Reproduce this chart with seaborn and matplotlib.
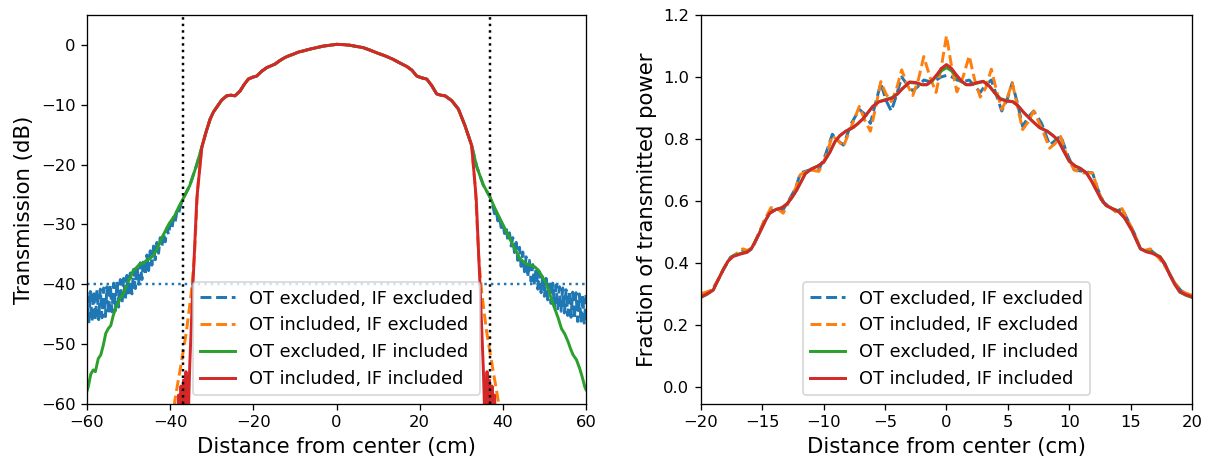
import matplotlib
matplotlib.use("Agg")
import matplotlib.pyplot as plt
import seaborn as sns

labels = ["OT excluded, IF excluded", "OT included, IF excluded",
          "OT excluded, IF included", "OT included, IF included"]
colors = ["tab:blue", "tab:orange", "tab:green", "tab:red"]
styles = ["--", "--", "-", "-"]

# ---- left panel: transmission in dB ----
lobe_x = [-32.4, -31.4, -30.4, -29.6, -28.8, -27.6, -26.4, -25.4, -24.4, -23.2,
          -22.2, -21.2, -20.2, -19.2, -18.0, -16.8, -15.8, -14.8, -13.6, -12.4,
          -11.4, -10.4, -9.2, -8.0, -6.4, -4.8, -3.2, -1.6, 0.0, 1.6, 3.2, 4.8,
          6.4, 8.0, 9.6, 11.6, 13.6, 15.2, 16.9, 18.1, 19.3, 20.5, 21.7, 22.9,
          24.1, 25.1, 26.1, 27.7, 29.3, 30.9, 32.5]
lobe_db = [-17.1, -14.6, -12.4, -11.2, -10.4, -9.2, -8.5, -8.4, -8.5, -7.7,
           -6.6, -5.7, -5.4, -5.2, -4.4, -3.8, -3.5, -3.2, -2.6, -2.1,
           -1.8, -1.55, -1.2, -1.0, -0.7, -0.45, -0.2, -0.05, 0.1, 0.05, -0.05, -0.25,
           -0.45, -0.85, -1.3, -1.8, -2.4, -3.0, -3.6, -4.2, -5.2, -5.5, -5.7, -6.8,
           -8.2, -8.4, -8.5, -9.3, -10.7, -13.5, -16.8]

red_left_x = [-38.3, -38.0, -37.7, -37.4, -37.1, -36.8, -36.5, -36.2, -35.9,
              -35.6, -35.3, -34.5, -33.6]
red_left_db = [-65, -58.5, -64, -57, -64, -56, -63, -54.6, -63,
               -61, -53.5, -39.6, -25.7]
red_right_x = [33.6, 34.5, 35.3, 35.6, 35.9, 36.2, 36.5, 36.8, 37.1, 37.4,
               37.7, 38.0, 38.3]
red_right_db = [-25.7, -40.0, -54.0, -61, -63, -54.6, -63, -56, -64, -57,
                -64, -58.5, -65]

orange_left_x = [-39.5, -38.9, -38.3, -37.7, -36.9, -36.1, -35.5, -34.9, -34.2, -33.4]
orange_left_db = [-63, -59.5, -57.0, -54.6, -51.3, -47.9, -44.6, -41.2, -35.5, -24.0]
orange_right_x = [33.4, 34.2, 34.9, 35.5, 36.1, 36.9, 37.7, 38.3, 38.9, 39.5]
orange_right_db = [-24.0, -35.5, -41.2, -44.6, -47.9, -51.3, -54.6, -57.0, -59.5, -63]

green_left_x = [-60.0, -59.7, -59.1, -58.5, -58.0, -57.3, -56.7, -56.1, -55.5,
                -54.9, -54.3, -53.7, -53.1, -52.1, -51.3, -50.5, -49.7, -48.9,
                -48.1, -47.3, -46.5, -45.7, -44.9, -44.1, -43.3, -42.5, -41.7,
                -40.3, -38.9, -37.9, -36.9, -35.3, -33.7]
green_left_db = [-57.8, -57.1, -55.0, -54.3, -54.6, -52.4, -51.8, -50.2, -48.2,
                 -47.4, -46.9, -45.2, -44.0, -42.4, -41.6, -40.2, -39.0, -37.7,
                 -37.2, -36.6, -36.5, -36.0, -35.7, -35.2, -34.3, -33.0, -31.8,
                 -29.9, -28.5, -27.0, -25.7, -23.5, -20.2]
green_right_x = [33.7, 35.3, 36.9, 38.1, 39.3, 40.5, 41.7, 42.9, 44.1, 44.9,
                 45.7, 46.7, 47.7, 48.5, 49.3, 50.1, 50.9, 51.7, 52.5, 53.3,
                 54.1, 54.9, 55.7, 56.3, 56.9, 57.7, 58.5, 59.1, 59.7, 60.0]
green_right_db = [-20.3, -23.4, -25.4, -27.3, -29.0, -30.7, -32.4, -34.1, -35.7, -36.2,
                  -36.6, -36.8, -37.1, -37.6, -38.5, -39.5, -40.7, -42.5, -44.1, -45.6,
                  -47.4, -48.3, -49.6, -50.8, -51.8, -52.6, -54.1, -55.5, -57.1, -57.6]

blue_left_x = [-60.0, -59.6, -59.2, -58.8, -58.4, -58.0, -57.6, -57.2, -56.8, -56.4,
               -56.0, -55.6, -55.2, -54.8, -54.4, -54.0, -53.6, -53.2, -52.8, -52.4,
               -52.0, -51.6, -51.2, -50.8, -50.4, -50.0, -49.6, -49.2, -48.8, -48.4,
               -48.0, -47.6, -47.2, -46.8, -46.4, -46.0, -45.6, -45.2, -44.8, -44.4,
               -44.0, -43.6, -43.2, -42.8, -42.4, -42.0, -41.6, -41.2, -40.8, -40.4,
               -40.0, -39.6, -39.2, -38.8, -38.4, -38.0, -37.6, -36.9, -35.3, -33.7]
blue_left_db = [-41.3, -46.5, -41.2, -46.2, -41.1, -46.0, -40.9, -45.9, -40.8, -45.6,
                -40.6, -45.4, -40.4, -45.0, -40.1, -44.6, -39.8, -44.4, -39.5, -43.8,
                -39.2, -43.2, -39.0, -42.6, -38.5, -42.0, -38.1, -41.6, -37.5, -40.7,
                -37.0, -40.0, -36.4, -39.2, -35.8, -38.5, -35.1, -37.7, -34.4, -36.8,
                -33.6, -35.9, -33.0, -34.8, -32.2, -33.8, -31.4, -32.9, -30.6, -31.7,
                -29.8, -30.8, -28.8, -29.6, -27.8, -28.3, -27.0, -25.7, -23.5, -20.2]
blue_right_x = [33.7, 35.3, 36.9, 37.6, 38.0, 38.4, 38.8, 39.2, 39.6, 40.0, 40.4,
                40.8, 41.2, 41.6, 42.0, 42.4, 42.8, 43.2, 43.6, 44.0, 44.4,
                44.8, 45.2, 45.6, 46.0, 46.4, 46.8, 47.2, 47.6, 48.0, 48.4,
                48.8, 49.2, 49.6, 50.0, 50.4, 50.8, 51.2, 51.6, 52.0, 52.4,
                52.8, 53.2, 53.6, 54.0, 54.4, 54.8, 55.2, 55.6, 56.0, 56.4,
                56.8, 57.2, 57.6, 58.0, 58.4, 58.8, 59.2, 59.6, 60.0]
blue_right_db = [-20.3, -23.4, -25.4, -26.9, -28.2, -27.7, -29.4, -28.7, -30.5, -29.6, -31.5,
                 -30.5, -32.6, -31.4, -33.6, -32.2, -34.7, -33.0, -36.0, -33.8, -37.0,
                 -34.6, -37.9, -35.4, -38.8, -36.0, -39.5, -36.7, -40.1, -37.3, -40.8,
                 -37.9, -41.4, -38.5, -42.0, -39.0, -42.6, -39.4, -43.2, -39.8, -43.7,
                 -40.1, -44.1, -40.4, -44.5, -40.6, -44.8, -40.9, -45.2, -41.1, -45.5,
                 -41.3, -45.8, -41.4, -46.2, -41.6, -46.4, -41.7, -46.7, -41.8]

threshold_db = -40
edge_cm = [-37, 37]

# ---- right panel: fraction of transmitted power ----
rp_x = [-20.0, -19.5, -19.0, -18.6, -18.2, -17.8, -17.4, -16.8, -16.3, -15.9,
        -15.5, -15.1, -14.7, -14.4, -13.9, -13.4, -13.0, -12.6, -12.2, -11.8,
        -11.5, -11.0, -10.5, -10.0, -9.5, -9.1, -8.7, -8.2, -7.6, -7.2,
        -6.8, -6.4, -6.0, -5.5, -4.9, -4.4, -4.0, -3.6, -3.0, -2.5,
        -2.0, -1.6, -1.2, -0.8, -0.4, 0.0, 0.4, 0.8, 1.2, 1.6,
        2.0, 2.5, 3.0, 3.5, 4.0, 4.4, 4.9, 5.4, 5.8, 6.3,
        6.8, 7.2, 7.6, 8.2, 8.7, 9.1, 9.6, 10.0, 10.5, 10.9,
        11.4, 11.8, 12.2, 12.6, 13.0, 13.5, 14.0, 14.5, 15.1, 15.5,
        15.8, 16.3, 16.8, 17.4, 17.8, 18.2, 18.6, 19.0, 19.5, 20.0]
red_frac = [0.290, 0.300, 0.312, 0.345, 0.377, 0.405, 0.420, 0.428, 0.433, 0.445,
            0.475, 0.507, 0.540, 0.560, 0.572, 0.578, 0.590, 0.610, 0.635, 0.665,
            0.688, 0.703, 0.712, 0.725, 0.757, 0.790, 0.810, 0.825, 0.837, 0.850,
            0.865, 0.885, 0.905, 0.920, 0.926, 0.932, 0.945, 0.962, 0.984, 0.982,
            0.975, 0.975, 0.988, 1.007, 1.028, 1.040, 1.028, 1.007, 0.988, 0.975,
            0.975, 0.982, 0.986, 0.970, 0.945, 0.928, 0.922, 0.920, 0.908, 0.885,
            0.865, 0.850, 0.836, 0.825, 0.810, 0.795, 0.757, 0.728, 0.712, 0.705,
            0.690, 0.665, 0.635, 0.605, 0.585, 0.575, 0.566, 0.545, 0.505, 0.470,
            0.445, 0.435, 0.430, 0.418, 0.395, 0.360, 0.330, 0.307, 0.297, 0.290]
green_frac = [0.288, 0.298, 0.312, 0.345, 0.377, 0.405, 0.422, 0.430, 0.435, 0.445,
              0.475, 0.507, 0.540, 0.560, 0.572, 0.578, 0.590, 0.610, 0.635, 0.665,
              0.688, 0.703, 0.712, 0.725, 0.757, 0.790, 0.810, 0.825, 0.837, 0.850,
              0.865, 0.885, 0.905, 0.920, 0.928, 0.934, 0.945, 0.962, 0.982, 0.980,
              0.975, 0.975, 0.986, 1.003, 1.020, 1.030, 1.020, 1.003, 0.986, 0.975,
              0.975, 0.980, 0.985, 0.970, 0.945, 0.930, 0.924, 0.920, 0.908, 0.885,
              0.865, 0.850, 0.836, 0.825, 0.810, 0.795, 0.757, 0.728, 0.712, 0.705,
              0.690, 0.665, 0.635, 0.605, 0.585, 0.575, 0.568, 0.545, 0.505, 0.470,
              0.445, 0.437, 0.432, 0.420, 0.397, 0.360, 0.330, 0.305, 0.295, 0.288]

osc_x = [-20.0, -19.6, -19.1, -18.6, -18.1, -17.6, -17.1, -16.6, -16.2, -15.8,
         -15.3, -14.8, -14.3, -13.8, -13.3, -12.8, -12.3, -11.9, -11.15, -10.4,
         -9.85, -9.3, -8.85, -8.4, -7.75, -7.1, -6.65, -6.2, -5.78, -5.35,
         -4.93, -4.5, -4.08, -3.65, -3.2, -2.75, -2.3, -1.85, -1.35, -0.85,
         -0.43, 0.0, 0.43, 0.85, 1.35, 1.85, 2.3, 2.75, 3.2, 3.65,
         4.08, 4.5, 4.93, 5.35, 5.78, 6.2, 6.65, 7.1, 7.75, 8.4,
         8.85, 9.3, 9.85, 10.4, 11.15, 11.9, 12.3, 12.8, 13.3, 13.8,
         14.3, 14.8, 15.3, 15.8, 16.2, 16.6, 17.1, 17.6, 18.1, 18.6,
         19.1, 19.6, 20.0]
orange_frac = [0.300, 0.305, 0.312, 0.345, 0.385, 0.415, 0.430, 0.445, 0.440, 0.450,
               0.495, 0.540, 0.578, 0.575, 0.560, 0.600, 0.640, 0.685, 0.700, 0.695,
               0.740, 0.810, 0.795, 0.775, 0.840, 0.905, 0.860, 0.825, 0.900, 0.985,
               0.945, 0.920, 0.960, 1.023, 0.975, 0.940, 0.990, 1.066, 1.000, 0.950,
               1.030, 1.133, 1.030, 0.952, 1.000, 1.068, 0.990, 0.935, 0.965, 1.025,
               0.955, 0.895, 0.930, 0.982, 0.905, 0.830, 0.855, 0.890, 0.835, 0.770,
               0.785, 0.808, 0.740, 0.700, 0.690, 0.690, 0.640, 0.590, 0.580, 0.565,
               0.575, 0.535, 0.495, 0.445, 0.440, 0.445, 0.425, 0.400, 0.370, 0.335,
               0.310, 0.300, 0.295]
blue_frac = [0.295, 0.302, 0.312, 0.345, 0.383, 0.418, 0.428, 0.438, 0.435, 0.448,
             0.492, 0.540, 0.570, 0.568, 0.572, 0.605, 0.640, 0.690, 0.700, 0.700,
             0.750, 0.815, 0.795, 0.780, 0.850, 0.895, 0.880, 0.850, 0.915, 0.980,
             0.925, 0.890, 0.940, 1.000, 0.975, 0.955, 0.970, 0.990, 0.985, 0.990,
             1.000, 1.005, 1.000, 0.990, 0.985, 0.990, 0.970, 0.950, 0.975, 0.990,
             0.940, 0.890, 0.925, 0.980, 0.915, 0.840, 0.870, 0.890, 0.850, 0.780,
             0.795, 0.810, 0.750, 0.700, 0.695, 0.690, 0.640, 0.595, 0.580, 0.565,
             0.575, 0.535, 0.495, 0.445, 0.440, 0.442, 0.425, 0.405, 0.370, 0.335,
             0.310, 0.300, 0.292]


def draw(ax, x, y, i, lw=1.8):
    sns.lineplot(x=x, y=y, ax=ax, color=colors[i], linestyle=styles[i],
                 linewidth=lw, label=labels[i], estimator=None, sort=False)


fig, (ax1, ax2) = plt.subplots(1, 2, figsize=(1214 / 118, 462 / 118), dpi=118)
ax1.set_position([0.0717, 0.1255, 0.411, 0.842])
ax2.set_position([0.5774, 0.1255, 0.4045, 0.842])

left_series = [
    (blue_left_x + lobe_x + blue_right_x, blue_left_db + lobe_db + blue_right_db),
    (orange_left_x + lobe_x + orange_right_x, orange_left_db + lobe_db + orange_right_db),
    (green_left_x + lobe_x + green_right_x, green_left_db + lobe_db + green_right_db),
    (red_left_x + lobe_x + red_right_x, red_left_db + lobe_db + red_right_db),
]
for i, (x, y) in enumerate(left_series):
    draw(ax1, x, y, i)
for e in edge_cm:
    ax1.axvline(e, color="k", linestyle=":", linewidth=1.5)
ax1.axhline(threshold_db, color="tab:blue", linestyle=":", linewidth=1.5)
ax1.set_xlim(-60, 60)
ax1.set_ylim(-60, 5)
ax1.set_xticks([-60, -40, -20, 0, 20, 40, 60])
ax1.set_yticks([-60, -50, -40, -30, -20, -10, 0])
ax1.set_xlabel("Distance from center (cm)", fontsize=13)
ax1.set_ylabel("Transmission (dB)", fontsize=13)
ax1.legend(loc="lower center", fontsize=10.8)

right_series = [(osc_x, blue_frac), (osc_x, orange_frac), (rp_x, green_frac), (rp_x, red_frac)]
for i, (x, y) in enumerate(right_series):
    draw(ax2, x, y, i)
ax2.set_xlim(-20, 20)
ax2.set_ylim(-0.056, 1.2)
ax2.set_xticks([-20, -15, -10, -5, 0, 5, 10, 15, 20])
ax2.set_yticks([0.0, 0.2, 0.4, 0.6, 0.8, 1.0, 1.2])
ax2.set_xlabel("Distance from center (cm)", fontsize=13)
ax2.set_ylabel("Fraction of transmitted power", fontsize=13)
ax2.legend(loc="lower center", fontsize=10.8)

for ax in (ax1, ax2):
    ax.tick_params(labelsize=10)

fig.savefig("out.png", dpi=118)
